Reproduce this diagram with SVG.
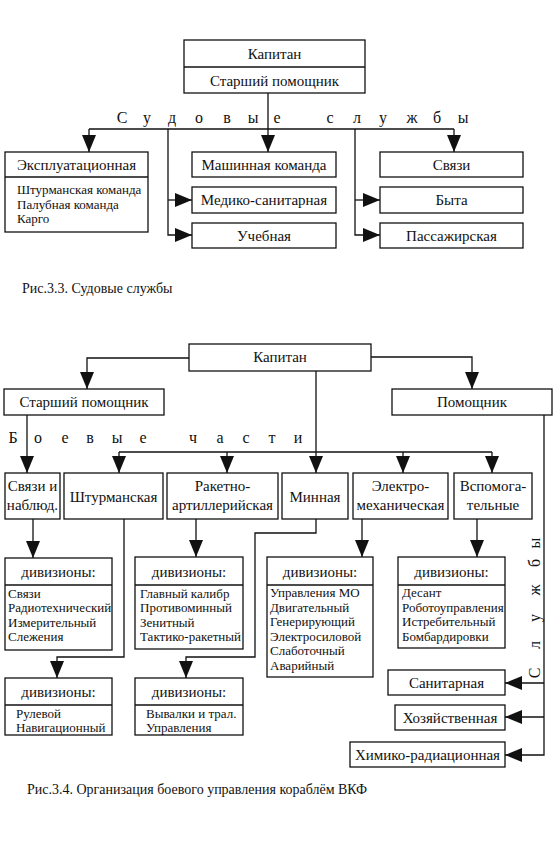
<svg xmlns="http://www.w3.org/2000/svg" width="555" height="847" viewBox="0 0 555 847">
<style>
  .b { fill: #fff; stroke: #111; stroke-width: 1.3; }
  .l { fill: none; stroke: #111; stroke-width: 1.3; }
  .a { fill: none; stroke: #111; stroke-width: 1.3; marker-end: url(#arr); }
  text { font-family: "Liberation Serif", "Times New Roman", serif; fill: #111; }
  .t { font-size: 15px; text-anchor: middle; }
  .s { font-size: 13px; }
  .sp { font-size: 16px; text-anchor: middle; }
  .cap { font-size: 14px; }
</style>
<defs>
  <marker id="arr" markerUnits="userSpaceOnUse" markerWidth="17" markerHeight="14" refX="17" refY="7" orient="auto">
    <path d="M0,0 L17,7 L0,14 Z" fill="#111"/>
  </marker>
</defs>
<rect width="555" height="847" fill="#fff"/>

<!-- ===== Figure 3.3 ===== -->
<g id="connectors-1">
  <path class="a" d="M268,93 V152"/>
  <path class="l" d="M89,129 H454"/>
  <path class="a" d="M89,129 V152"/>
  <path class="a" d="M454,129 V152"/>
  <path class="a" d="M168,129 V235 H192"/>
  <path class="a" d="M168,200 H192"/>
  <path class="a" d="M355,129 V235 H380"/>
  <path class="a" d="M355,200 H380"/>
</g>
<g id="n-kapitan-1">
  <rect class="b" x="184" y="40" width="181" height="53"/>
  <line class="l" x1="184" y1="67" x2="365" y2="67"/>
  <text class="t" x="274.5" y="59">Капитан</text>
  <text class="t" x="274.5" y="86">Старший помощник</text>
</g>
<g id="lbl-sudovye">
  <text class="sp" y="123"><tspan x="122 147 172 199 227 253 279">Судовые</tspan> <tspan x="330 357 383 412 437 463">службы</tspan></text>
</g>
<g id="n-ekspl">
  <rect class="b" x="5" y="152" width="143" height="80"/>
  <line class="l" x1="5" y1="177" x2="148" y2="177"/>
  <text class="t" x="76.5" y="170">Эксплуатационная</text>
  <text class="s" x="17" y="194">Штурманская команда</text>
  <text class="s" x="17" y="209">Палубная команда</text>
  <text class="s" x="17" y="223">Карго</text>
</g>
<g id="n-mash">
  <rect class="b" x="192" y="152" width="144" height="25"/>
  <text class="t" x="264" y="170">Машинная команда</text>
</g>
<g id="n-medico">
  <rect class="b" x="192" y="187" width="144" height="26"/>
  <text class="t" x="264" y="205">Медико-санитарная</text>
</g>
<g id="n-ucheb">
  <rect class="b" x="192" y="223" width="144" height="25"/>
  <text class="t" x="264" y="241">Учебная</text>
</g>
<g id="n-svyazi-1">
  <rect class="b" x="380" y="152" width="143" height="25"/>
  <text class="t" x="451.5" y="170">Связи</text>
</g>
<g id="n-byta">
  <rect class="b" x="380" y="187" width="143" height="26"/>
  <text class="t" x="451.5" y="205">Быта</text>
</g>
<g id="n-passazh">
  <rect class="b" x="380" y="223" width="143" height="25"/>
  <text class="t" x="451.5" y="241">Пассажирская</text>
</g>
<text class="cap" x="22" y="293">Рис.3.3. Судовые службы</text>

<!-- ===== Figure 3.4 ===== -->
<g id="connectors-2">
  <path class="a" d="M189,358 H87 V389"/>
  <path class="a" d="M371,357 H472 V389"/>
  <path class="a" d="M316,371 V473"/>
  <path class="a" d="M27,415 V473"/>
  <path class="l" d="M119,452 H492"/>
  <path class="a" d="M119,452 V473"/>
  <path class="a" d="M227,452 V473"/>
  <path class="a" d="M403,452 V473"/>
  <path class="a" d="M492,452 V473"/>
  <path class="a" d="M33,519 V558"/>
  <path class="a" d="M124,519 V657 H57 V678"/>
  <path class="a" d="M196,519 V557"/>
  <path class="a" d="M316,519 V533 H255 V657 H186 V678"/>
  <path class="a" d="M362,519 V557"/>
  <path class="a" d="M477,519 V557"/>
  <path class="a" d="M544,415 V755 H505"/>
  <path class="a" d="M544,683 H505"/>
  <path class="a" d="M544,717 H505"/>
</g>
<g id="n-kapitan-2">
  <rect class="b" x="189" y="344" width="182" height="27"/>
  <text class="t" x="280" y="362">Капитан</text>
</g>
<g id="n-starpom">
  <rect class="b" x="4" y="389" width="160" height="26"/>
  <text class="t" x="84" y="407">Старший помощник</text>
</g>
<g id="n-pomoshnik">
  <rect class="b" x="392" y="389" width="160" height="26"/>
  <text class="t" x="472" y="407">Помощник</text>
</g>
<g id="lbl-boevye">
  <text class="sp" y="443"><tspan x="13 38 65 90 117 145">Боевые</tspan> <tspan x="193 220 246 272 298">части</tspan></text>
</g>
<g id="lbl-sluzhby">
  <text class="sp" transform="translate(540,0) rotate(-90)" y="0" x="-673 -645 -618 -590 -563 -543">Службы</text>
</g>
<g id="n-svyazi-nabl">
  <rect class="b" x="5" y="473" width="55" height="46"/>
  <text class="t" x="32.5" y="491">Связи и</text>
  <text class="t" x="32.5" y="510">наблюд.</text>
</g>
<g id="n-shturm">
  <rect class="b" x="64" y="473" width="99" height="46"/>
  <text class="t" x="113.5" y="502">Штурманская</text>
</g>
<g id="n-raket">
  <rect class="b" x="167" y="473" width="111" height="46"/>
  <text class="t" x="222.5" y="491">Ракетно-</text>
  <text class="t" x="222.5" y="510">артиллерийская</text>
</g>
<g id="n-minnaya">
  <rect class="b" x="282" y="473" width="66" height="46"/>
  <text class="t" x="315" y="502">Минная</text>
</g>
<g id="n-elektro">
  <rect class="b" x="353" y="473" width="95" height="46"/>
  <text class="t" x="400.5" y="491">Электро-</text>
  <text class="t" x="400.5" y="510">механическая</text>
</g>
<g id="n-vspom">
  <rect class="b" x="454" y="473" width="78" height="46"/>
  <text class="t" x="493" y="491">Вспомога-</text>
  <text class="t" x="493" y="510">тельные</text>
</g>
<g id="n-div-svyazi">
  <rect class="b" x="5" y="558" width="107" height="92"/>
  <line class="l" x1="5" y1="585" x2="112" y2="585"/>
  <text class="t" x="58.5" y="577">дивизионы:</text>
  <text class="s" x="8" y="598">Связи</text>
  <text class="s" x="8" y="612">Радиотехнический</text>
  <text class="s" x="8" y="627">Измерительный</text>
  <text class="s" x="8" y="641">Слежения</text>
</g>
<g id="n-div-shturm">
  <rect class="b" x="5" y="678" width="107" height="57"/>
  <line class="l" x1="5" y1="705" x2="112" y2="705"/>
  <text class="t" x="58.5" y="697">дивизионы:</text>
  <text class="s" x="16" y="718">Рулевой</text>
  <text class="s" x="16" y="732">Навигационный</text>
</g>
<g id="n-div-raket">
  <rect class="b" x="135" y="557" width="108" height="92"/>
  <line class="l" x1="135" y1="585" x2="243" y2="585"/>
  <text class="t" x="189" y="577">дивизионы:</text>
  <text class="s" x="140" y="598">Главный калибр</text>
  <text class="s" x="140" y="612">Противоминный</text>
  <text class="s" x="140" y="627">Зенитный</text>
  <text class="s" x="140" y="641">Тактико-ракетный</text>
</g>
<g id="n-div-minnaya">
  <rect class="b" x="135" y="678" width="108" height="57"/>
  <line class="l" x1="135" y1="705" x2="243" y2="705"/>
  <text class="t" x="189" y="697">дивизионы:</text>
  <text class="s" x="146" y="718">Вывалки и трал.</text>
  <text class="s" x="146" y="732">Управления</text>
</g>
<g id="n-div-elektro">
  <rect class="b" x="267" y="557" width="106" height="120"/>
  <line class="l" x1="267" y1="585" x2="373" y2="585"/>
  <text class="t" x="320" y="577">дивизионы:</text>
  <text class="s" x="270" y="597">Управления МО</text>
  <text class="s" x="270" y="611.5">Двигательный</text>
  <text class="s" x="270" y="626">Генерирующий</text>
  <text class="s" x="270" y="640.5">Электросиловой</text>
  <text class="s" x="270" y="655">Слаботочный</text>
  <text class="s" x="270" y="669.5">Аварийный</text>
</g>
<g id="n-div-vspom">
  <rect class="b" x="398" y="557" width="107" height="91"/>
  <line class="l" x1="398" y1="585" x2="505" y2="585"/>
  <text class="t" x="451.5" y="577">дивизионы:</text>
  <text class="s" x="402" y="597">Десант</text>
  <text class="s" x="402" y="611.5">Роботоуправления</text>
  <text class="s" x="402" y="626">Истребительный</text>
  <text class="s" x="402" y="640.5">Бомбардировки</text>
</g>
<g id="n-sanit">
  <rect class="b" x="388" y="670" width="117" height="25"/>
  <text class="t" x="446.5" y="688">Санитарная</text>
</g>
<g id="n-hoz">
  <rect class="b" x="395" y="705" width="110" height="25"/>
  <text class="t" x="450" y="723">Хозяйственная</text>
</g>
<g id="n-himiko">
  <rect class="b" x="350" y="742" width="155" height="25"/>
  <text class="t" x="427.5" y="760">Химико-радиационная</text>
</g>
<text class="cap" x="27" y="794">Рис.3.4. Организация боевого управления кораблём ВКФ</text>
</svg>
